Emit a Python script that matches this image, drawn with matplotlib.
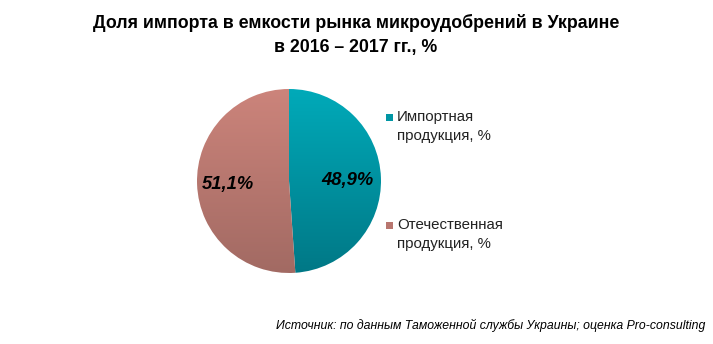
import matplotlib
matplotlib.use("Agg")
import matplotlib.pyplot as plt
import numpy as np
from matplotlib.colors import LinearSegmentedColormap

plt.rcParams['font.family'] = ['Liberation Sans', 'DejaVu Sans']

title = "Доля импорта в емкости рынка микроудобрений в Украине\nв 2016 – 2017 гг., %"
categories = ["Импортная\nпродукция, %", "Отечественная\nпродукция, %"]
values = [48.9, 51.1]
top_colors = ["#00AAB9", "#CC847B"]
bottom_colors = ["#007886", "#A26A63"]
legend_colors = ["#0096A4", "#B8766F"]
source = "Источник: по данным Таможенной службы Украины; оценка Pro-consulting"

W, H = 713, 344
fig = plt.figure(figsize=(W / 100, H / 100), dpi=100)
fig.patch.set_facecolor("white")

cx, cy, r = 289, 181, 92
half = 100
ax = fig.add_axes([(cx - half) / W, (H - cy - half) / H, 2 * half / W, 2 * half / H])

wedges, _ = ax.pie(values, startangle=90, counterclock=False, colors=legend_colors,
                   radius=1, wedgeprops=dict(linewidth=0))
lim = half / r

grad = np.linspace(1, 0, 256).reshape(-1, 1)
for w, tc, bc in zip(wedges, top_colors, bottom_colors):
    cmap = LinearSegmentedColormap.from_list("g", [bc, tc])
    im = ax.imshow(grad, cmap=cmap, extent=[-1, 1, -1, 1], aspect="auto",
                   origin="upper", zorder=w.get_zorder() + 0.1, vmin=0, vmax=1)
    im.set_clip_path(w)
    w.set_facecolor("none")
    w.set_zorder(w.get_zorder() + 0.2)
ax.set_xlim(-lim, lim)
ax.set_ylim(-lim, lim)
ax.set_aspect("equal")
ax.axis("off")

label_dist = [0.64, 0.66]
for w, v, d in zip(wedges, values, label_dist):
    ang = np.deg2rad((w.theta1 + w.theta2) / 2)
    ax.text(d * np.cos(ang), d * np.sin(ang) - 0.02, f"{v:.1f}%".replace(".", ","),
            ha="center", va="center", fontsize=13.2, fontweight="bold",
            fontstyle="italic", color="black", zorder=10)

fig.text(356 / W, 1 - 35 / H, title, ha="center", va="center", fontsize=12.8,
         fontweight="bold", linespacing=1.5)

leg_y = [117, 225]
for cat, col, y in zip(categories, legend_colors, leg_y):
    fig.patches.append(plt.Rectangle(((386) / W, 1 - (y + 3.5) / H), 7 / W, 7 / H,
                                     transform=fig.transFigure, facecolor=col,
                                     edgecolor="none"))
    fig.text(397 / W, 1 - (y - 7) / H, cat, ha="left", va="top", fontsize=10.8,
             linespacing=1.45, color="#222222")

fig.text(705 / W, 1 - 325 / H, source, ha="right", va="center", fontsize=8.8,
         fontstyle="italic", color="black")

fig.savefig("out.png", dpi=100)
